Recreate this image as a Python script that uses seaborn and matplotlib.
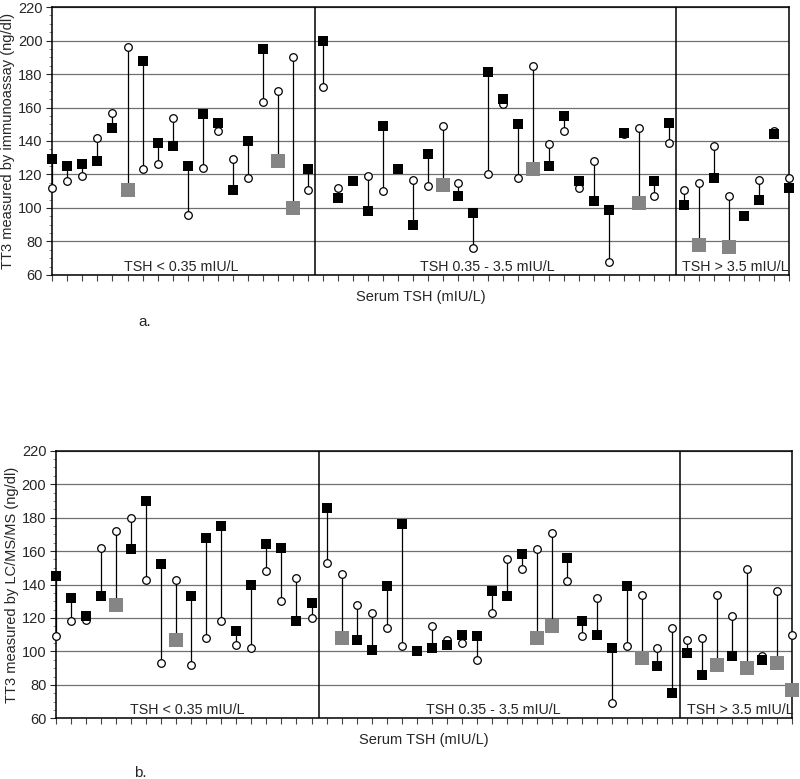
import numpy as np
import pandas as pd
import matplotlib
matplotlib.use("Agg")
import matplotlib.pyplot as plt
import seaborn as sns
from matplotlib.ticker import MultipleLocator

sns.set_theme(style="white")
plt.rcParams['font.family'] = ['Liberation Sans', 'DejaVu Sans']

# --- data, one entry per subject, left to right ---
group_names = ["TSH < 0.35 mIU/L", "TSH 0.35 - 3.5 mIU/L", "TSH > 3.5 mIU/L"]
group_sizes = [18, 24, 8]

# panel a: immunoassay (squares) vs. paired circle values
a_square = [129, 125, 126, 128, 148, 111, 188, 139, 137, 125, 156, 151, 111, 140, 195, 128, 100, 123,
            200, 106, 116, 98, 149, 123, 90, 132, 114, 107, 97, 181, 165, 150, 123, 125, 155, 116,
            104, 99, 145, 103, 116, 151,
            102, 78, 118, 77, 95, 105, 144, 112]
a_circle = [112, 116, 119, 142, 157, 196, 123, 126, 154, 96, 124, 146, 129, 118, 163, 170, 190, 111,
            172, 112, 116, 119, 110, 123, 117, 113, 149, 115, 76, 120, 162, 118, 185, 138, 146, 112,
            128, 68, 144, 148, 107, 139,
            111, 115, 137, 107, 95, 117, 146, 118]
a_gray = [5, 15, 16, 26, 32, 39, 43, 45]

# panel b: LC/MS/MS (squares) vs. paired circle values
b_square = [145, 132, 121, 133, 128, 161, 190, 152, 107, 133, 168, 175, 112, 140, 164, 162, 118, 129,
            186, 108, 107, 101, 139, 176, 100, 102, 104, 110, 109, 136, 133, 158, 108, 115, 156, 118,
            110, 102, 139, 96, 91, 75,
            99, 86, 92, 97, 90, 95, 93, 77]
b_circle = [109, 118, 119, 162, 172, 180, 143, 93, 143, 92, 108, 118, 104, 102, 148, 130, 144, 120,
            153, 146, 128, 123, 114, 103, 100, 115, 107, 105, 95, 123, 155, 149, 161, 171, 142, 109,
            132, 69, 103, 134, 102, 114,
            107, 108, 134, 121, 149, 97, 136, 110]
b_gray = [4, 8, 19, 32, 33, 39, 44, 46, 48, 49]


def make_frame(squares, circles, gray):
    df = pd.DataFrame({'subject': np.arange(len(squares)), 'square': squares, 'circle': circles})
    df['kind'] = np.where(df['subject'].isin(gray), 'gray', 'black')
    return df


def draw_panel(ax, df, ylabel, label_x):
    n = len(df)
    # connectors
    ax.vlines(df['subject'], df['square'], df['circle'], color='black', lw=0.9, zorder=3)
    # open circles
    sns.scatterplot(data=df, x='subject', y='circle', ax=ax, marker='o', s=30,
                    color='white', edgecolor='black', linewidth=0.9, zorder=4, clip_on=False,
                    legend=False)
    # squares
    blk = df[df['kind'] == 'black']
    gry = df[df['kind'] == 'gray']
    sns.scatterplot(data=blk, x='subject', y='square', ax=ax, marker='s', s=46,
                    color='black', edgecolor='black', linewidth=0, zorder=5, clip_on=False,
                    legend=False)
    sns.scatterplot(data=gry, x='subject', y='square', ax=ax, marker='s', s=100,
                    color='#858585', edgecolor='#858585', linewidth=0, zorder=5, clip_on=False,
                    legend=False)

    ax.set_xlim(0, n - 1)
    ax.set_ylim(60, 220)
    ax.yaxis.set_major_locator(MultipleLocator(20))
    ax.yaxis.set_minor_locator(MultipleLocator(5))
    ax.set_xticks(np.arange(n))
    ax.set_xticklabels([])
    ax.tick_params(axis='x', direction='out', length=4, width=0.8, color='#444444', bottom=True)
    ax.tick_params(axis='y', which='major', direction='out', length=4, width=0.8,
                   labelsize=10.5, pad=3, left=True)
    ax.tick_params(axis='y', which='minor', direction='out', length=2.5, width=0.6,
                   color='#777777', left=True)
    ax.yaxis.grid(True, color='#707070', lw=0.9, zorder=0)
    ax.xaxis.grid(False)
    ax.set_axisbelow(True)
    for sp in ax.spines.values():
        sp.set_color('black')
        sp.set_linewidth(1.1)

    # group dividers and labels
    edges = np.cumsum(group_sizes)[:-1] - 0.5
    for e in edges:
        ax.axvline(e, color='black', lw=1.1, zorder=2)
    for name, xc in zip(group_names, label_x):
        ax.text(xc, 65, name, ha='center', va='center', fontsize=10.3, zorder=6)

    ax.set_xlabel("Serum TSH (mIU/L)", fontsize=10.5, labelpad=3)
    ax.set_ylabel(ylabel, fontsize=10.5, labelpad=2)


fig = plt.figure(figsize=(8.0, 7.79), dpi=100)
ax_a = fig.add_axes([0.0654, 0.647, 0.921, 0.344])
ax_b = fig.add_axes([0.070, 0.0779, 0.9206, 0.3435])

draw_panel(ax_a, make_frame(a_square, a_circle, a_gray),
           "TT3 measured by immunoassay (ng/dl)", [8.6, 28.9, 45.4])
draw_panel(ax_b, make_frame(b_square, b_circle, b_gray),
           "TT3 measured by LC/MS/MS (ng/dl)", [8.7, 29.1, 45.5])

fig.text(145 / 800, 1 - 322 / 779, "a.", ha='center', va='center', fontsize=11)
fig.text(140 / 800, 1 - 773 / 779, "b.", ha='center', va='center', fontsize=11)

fig.savefig("out.png", dpi=100, facecolor='white')
